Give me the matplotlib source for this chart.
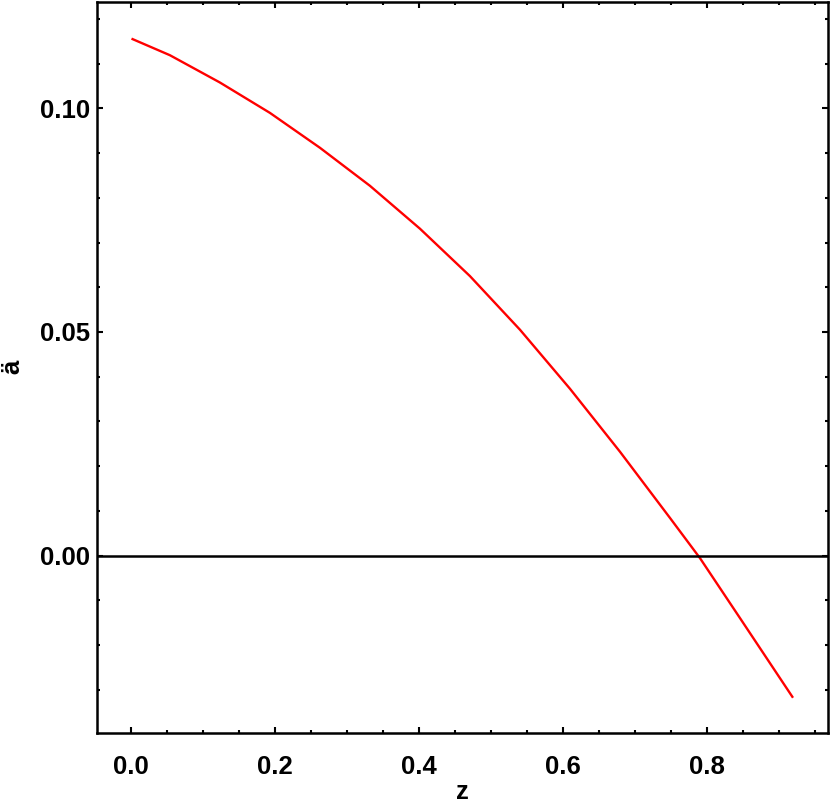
import matplotlib.pyplot as plt
from matplotlib.ticker import MultipleLocator, FormatStrFormatter

# values
z = [0.0024, 0.0542, 0.1236, 0.1931, 0.2625, 0.3319, 0.4014, 0.4708, 0.5403,
     0.6097, 0.6792, 0.7486, 0.7903, 0.8458, 0.9185]
addot = [0.1155, 0.1119, 0.1058, 0.0990, 0.0912, 0.0827, 0.0731, 0.0625, 0.0505,
         0.0373, 0.0232, 0.0084, -0.0006, -0.0140, -0.0316]

plt.rcParams['font.family'] = ['Liberation Sans', 'DejaVu Sans']
plt.rcParams['font.weight'] = 'bold'

fig = plt.figure(figsize=(8.3, 8.05), dpi=100)
ax = fig.add_axes([97 / 830, 1 - 733 / 805, 731 / 830, 731 / 805])

ax.plot(z, addot, color='red', linewidth=1.7)
ax.axhline(0, color='black', linewidth=1.8)

ax.set_xlim(-0.047, 0.968)
ax.set_ylim(-0.0397, 0.1238)

ax.xaxis.set_major_locator(MultipleLocator(0.2))
ax.xaxis.set_minor_locator(MultipleLocator(0.05))
ax.yaxis.set_major_locator(MultipleLocator(0.05))
ax.yaxis.set_minor_locator(MultipleLocator(0.01))
ax.xaxis.set_major_formatter(FormatStrFormatter('%.1f'))
ax.yaxis.set_major_formatter(FormatStrFormatter('%.2f'))

ax.tick_params(which='both', direction='in', top=True, right=True, width=1.5, labelsize=18.5)
ax.tick_params(which='major', length=4.5)
ax.tick_params(which='minor', length=2.5)
ax.tick_params(axis='x', which='major', pad=16)
ax.tick_params(axis='y', which='major', pad=5)
for lab in ax.get_xticklabels() + ax.get_yticklabels():
    lab.set_fontweight('bold')

for s in ax.spines.values():
    s.set_linewidth(1.8)

fig.text(462 / 830, 1 - 792 / 805, 'z', fontsize=18.5, fontweight='bold', ha='center', va='center')
fig.text(12 / 830, 1 - 367 / 805, 'ä', rotation=90, fontsize=18.5, fontweight='bold', ha='center', va='center')

fig.savefig('out.png', dpi=100)
